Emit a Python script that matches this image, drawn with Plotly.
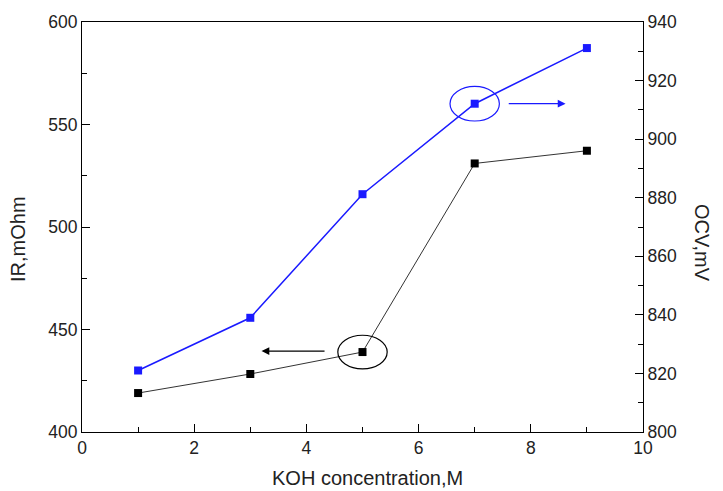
import plotly.graph_objects as go

koh = [1, 3, 5, 7, 9]
ir_mohm = [419, 428.3, 439, 531, 537.2]
ocv_mv = [821, 839, 881.2, 912.1, 931.1]

x_ticks = [0, 2, 4, 6, 8, 10]
ir_ticks = [400, 450, 500, 550, 600]
ocv_ticks = [800, 820, 840, 860, 880, 900, 920, 940]

FONT = "Liberation Sans, Arial, sans-serif"
BLUE = "#1a1aff"
TXT = "#222222"

fig = go.Figure()
fig.add_trace(go.Scatter(
    x=koh, y=ir_mohm, mode="lines+markers",
    line=dict(color="#333333", width=1),
    marker=dict(symbol="square", size=8, color="black"),
    yaxis="y", showlegend=False))
fig.add_trace(go.Scatter(
    x=koh, y=ocv_mv, mode="lines+markers",
    line=dict(color=BLUE, width=1.5),
    marker=dict(symbol="square", size=8, color=BLUE),
    yaxis="y2", showlegend=False))

axis_common = dict(
    showgrid=False, zeroline=False, showline=True, linecolor="black", linewidth=1.2,
    ticks="inside", ticklen=8, tickwidth=1, tickcolor="black",
    tickfont=dict(family=FONT, size=17.5, color=TXT),
)

fig.update_layout(
    width=723, height=491,
    margin=dict(l=82, r=80, t=19, b=59),
    paper_bgcolor="white", plot_bgcolor="white",
    xaxis=dict(range=[0, 10], tickvals=x_ticks, mirror=True,
               minor=dict(ticks="inside", ticklen=5, dtick=1, tickcolor="black"),
               **axis_common),
    yaxis=dict(range=[400, 600], tickvals=ir_ticks,
               minor=dict(ticks="inside", ticklen=5, dtick=25, tickcolor="black"),
               **axis_common),
    yaxis2=dict(range=[800, 940], tickvals=ocv_ticks, overlaying="y", side="right",
                minor=dict(ticks="inside", ticklen=5, dtick=10, tickcolor="black"),
                **axis_common),
)

title_font = dict(family=FONT, size=20, color=TXT)
# axis titles
fig.add_annotation(text="KOH concentration,M", xref="paper", yref="paper", x=0.5, y=0,
                   xanchor="center", yanchor="middle", xshift=5, yshift=-46,
                   showarrow=False, font=title_font)
fig.add_annotation(text="IR,mOhm", xref="paper", yref="paper", x=0, y=0.5,
                   xanchor="center", yanchor="middle", xshift=-64, yshift=-12,
                   textangle=-90, showarrow=False, font=title_font)
fig.add_annotation(text="OCV,mV", xref="paper", yref="paper", x=1, y=0.5,
                   xanchor="center", yanchor="middle", xshift=59, yshift=-16,
                   textangle=90, showarrow=False, font=title_font)

# ellipse + arrow for IR series (black, points to left axis)
fig.add_shape(type="circle", xref="x", yref="y",
              x0=5 - 0.44, x1=5 + 0.44, y0=439 - 8.2, y1=439 + 8.2,
              line=dict(color="black", width=1.2))
fig.add_annotation(x=3.2, y=439.5, ax=4.35, ay=439.5, xref="x", yref="y",
                   axref="x", ayref="y", text="", showarrow=True,
                   arrowhead=2, arrowsize=1.2, arrowwidth=1.3, arrowcolor="black")

# ellipse + arrow for OCV series (blue, points to right axis)
fig.add_shape(type="circle", xref="x", yref="y2",
              x0=7 - 0.44, x1=7 + 0.44, y0=912.1 - 5.9, y1=912.1 + 5.9,
              line=dict(color=BLUE, width=1.2))
fig.add_annotation(x=8.62, y=912.1, ax=7.58, ay=912.1, xref="x", yref="y2",
                   axref="x", ayref="y2", text="", showarrow=True,
                   arrowhead=2, arrowsize=1.2, arrowwidth=1.3, arrowcolor=BLUE)

fig.write_html("out.html")
